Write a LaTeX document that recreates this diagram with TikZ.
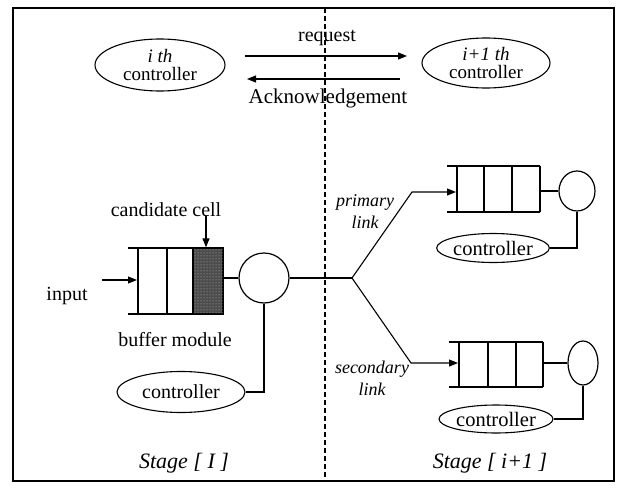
\documentclass[tikz,border=0pt]{standalone}
\usepackage{fontspec}
\setmainfont{Liberation Serif}
\usetikzlibrary{shapes.geometric,arrows.meta,patterns}
\begin{document}
\begin{tikzpicture}[x=1pt,y=-1pt,line width=1.1pt,
  ctrl/.style={draw,ellipse,inner sep=0pt,line width=1.1pt,align=center,
    font=\fontsize{19}{18}\selectfont},
  smallctrl/.style={ctrl,font=\fontsize{20.5}{20}\selectfont},
  lbl/.style={inner sep=0pt,font=\fontsize{20}{22}\selectfont},
  ilbl/.style={inner sep=0pt,align=center,font=\fontsize{18}{22}\selectfont\itshape},
  stagelbl/.style={inner sep=0pt,font=\fontsize{22}{24}\selectfont\itshape},
  arr/.style={-{Triangle[length=9pt,width=7pt]}},
  bufline/.style={line width=1.4pt},
  sep/.style={line width=1.4pt,dash pattern=on 5pt off 3pt},
  wire/.style={line width=1.1pt}]
\useasboundingbox (0,0) rectangle (622,490);

% outer frame
\draw[line width=1.2pt] (13,8) rectangle (614,481);

% ---------- controller handshake ----------
\node[ctrl,minimum width=130pt,minimum height=52pt] (ci) at (160,65)
  {{\itshape i th}\\controller};
\node[ctrl,minimum width=128pt,minimum height=50pt] (cj) at (486,63)
  {{\itshape i+1 th}\\controller};
\coordinate (rqA) at (245,56);
\coordinate (rqB) at (407,56);
\coordinate (akA) at (400,79);
\coordinate (akB) at (247,79);
\draw[wire,arr] (rqA) -- (rqB);
\draw[wire,arr] (akA) -- (akB);
\node[lbl] (rq) at (327,38) {request};
\node[lbl,font=\fontsize{21}{22}\selectfont] (ak) at (328,98) {Acknowledgement};

% ---------- stage i buffer module ----------
\draw[bufline] (128,248) -- (223,248);
\draw[bufline] (128,314) -- (223,314);
\node[draw,line width=1.4pt,fill=black!70,minimum width=30pt,minimum height=66pt,
  inner sep=0pt] (cand) at (208,281) {};
\fill[pattern=dots,pattern color=white!75!black] (cand.south west) rectangle (cand.north east);
\draw[line width=1.4pt] (cand.south west) rectangle (cand.north east);
\draw[bufline] (138,248) -- (138,314);
\draw[bufline] (167,248) -- (167,314);
\node[draw,circle,line width=1.2pt,minimum size=50pt,inner sep=0pt] (srv) at (264,278) {};
\coordinate (inA) at (102,280);
\coordinate (inB) at (137,280);
\draw[wire,arr] (inA) -- (inB);
\node[lbl] (inp) at (67,296) {input};
\node[lbl] (cc) at (166,210) {candidate cell};
\coordinate (ccA) at (206,216);
\draw[wire,arr] (ccA) -- (cand.north -| ccA);
\node[lbl] (bm) at (175,340) {buffer module};
\draw[wire] (cand.east |- srv.west) -- (srv.west);
\node[ctrl,font=\fontsize{20}{20}\selectfont,minimum width=128pt,minimum height=41pt]
  (c1) at (181,392) {controller};
\draw[wire] (srv.south) -- (srv.south |- c1.east) -- (c1.east);

% ---------- routing to stage i+1 ----------
\coordinate (jn) at (352,278);
\draw[wire] (srv.east) -- (jn);
\coordinate (pk) at (412,192);
\coordinate (sk) at (411,363);

% primary queue
\draw[bufline] (447,166) -- (540,166);
\draw[bufline] (447,212) -- (540,212);
\foreach \x in {457,484,512,540} \draw[bufline] (\x,166) -- (\x,212);
\coordinate (pq) at (456,192);
\node[draw,ellipse,line width=1.2pt,minimum width=36pt,minimum height=40pt,inner sep=0pt]
  (ps) at (577,191) {};
\draw[wire] (540,191) -- (ps.west);
\node[smallctrl,minimum width=112pt,minimum height=29pt] (c2) at (493,248) {controller};
\draw[wire] (ps.south) -- (ps.south |- c2.east) -- (c2.east);
\draw[wire,arr] (jn) -- (pk) -- (pq);
\node[ilbl] (pl) at (365,212) {primary\\link};

% secondary queue
\draw[bufline] (449,342) -- (543,342);
\draw[bufline] (449,387) -- (543,387);
\foreach \x in {459,488,516,543} \draw[bufline] (\x,342) -- (\x,387);
\coordinate (sq) at (458,363);
\node[draw,ellipse,line width=1.2pt,minimum width=30pt,minimum height=44pt,inner sep=0pt]
  (ss) at (583,363) {};
\draw[wire] (543,363) -- (ss.west);
\node[smallctrl,minimum width=114pt,minimum height=28pt] (c3) at (496,419) {controller};
\draw[wire] (ss.south) -- (ss.south |- c3.east) -- (c3.east);
\draw[wire,arr] (jn) -- (sk) -- (sq);
\node[ilbl] (sl) at (372,378) {secondary\\link};

% stage captions
\node[stagelbl] (s1) at (184,463) {Stage [ I ]};
\node[stagelbl] (s2) at (490,463) {Stage [ i+1 ]};

% stage boundary
\coordinate (bdT) at (325,8);
\coordinate (bdB) at (325,481);
\draw[sep] (bdT) -- (bdB);
\end{tikzpicture}
\end{document}
